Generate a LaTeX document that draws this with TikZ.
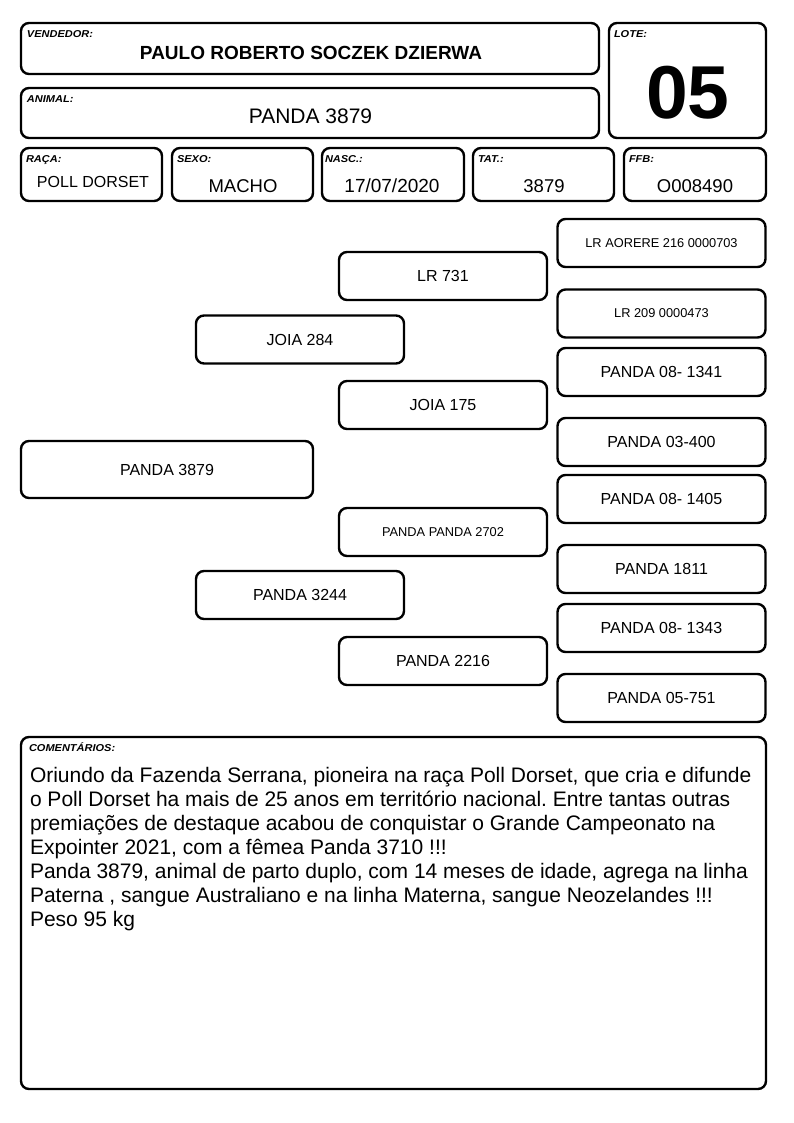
\documentclass[tikz,border=0pt]{standalone}
\usepackage{fontspec}
\setmainfont{Liberation Sans}
\newfontfamily\tagfont[FakeStretch=1.1]{Liberation Sans}
\usetikzlibrary{positioning}
\frenchspacing

\tikzset{
    box/.style={draw, line width=2.4pt, rounded corners=8pt, inner sep=0pt},
    tag/.style={anchor=north west, inner sep=0pt, font=\tagfont\bfseries\itshape\fontsize{10}{11}\selectfont},
    val/.style={font=\fontsize{18.5}{20}\selectfont},
    ped/.style={box, minimum width=208pt, minimum height=48pt, font=\fontsize{16}{17}\selectfont},
    pedsmall/.style={ped, font=\fontsize{12.8}{14}\selectfont}
}

\begin{document}
\begin{tikzpicture}[x=1pt, y=-1pt]
    \useasboundingbox (0,0) rectangle (794,1123);

    % cabecalho
    \node[box, minimum width=578pt, minimum height=51pt] (vendedor) at (310,48.5) {};
    \node[tag] at ([shift={(7pt,-9pt)}]vendedor.north west) {VENDEDOR:};
    \node[font=\bfseries\fontsize{19}{21}\selectfont] at (311,53) {PAULO ROBERTO SOCZEK DZIERWA};

    \node[box, minimum width=578pt, minimum height=50pt] (animal) at (310,113) {};
    \node[tag] at ([shift={(7pt,-9pt)}]animal.north west) {ANIMAL:};
    \node[font=\fontsize{21}{23}\selectfont] at (310.5,116) {PANDA 3879};

    \node[box, minimum width=157pt, minimum height=115pt] (lote) at (687.5,80.5) {};
    \node[tag] at ([shift={(6pt,-9pt)}]lote.north west) {LOTE:};
    \node[font=\bfseries\fontsize{75}{77}\selectfont] at (688,93) {05};

    % linha de dados
    \node[box, minimum width=141pt, minimum height=53pt] (raca) at (91.5,174.5) {};
    \node[tag] at ([shift={(6pt,-9pt)}]raca.north west) {RAÇA:};
    \node[font=\fontsize{16}{18}\selectfont] at (93,182) {POLL DORSET};

    \node[box, minimum width=141pt, minimum height=53pt] (sexo) at (242.5,174.5) {};
    \node[tag] at ([shift={(6pt,-9pt)}]sexo.north west) {SEXO:};
    \node[val] at (243,186) {MACHO};

    \node[box, minimum width=142pt, minimum height=53pt] (nasc) at (393,174.5) {};
    \node[tag] at ([shift={(4pt,-9pt)}]nasc.north west) {NASC.:};
    \node[val, font=\fontsize{19}{20}\selectfont] at (392,186) {17/07/2020};

    \node[box, minimum width=141pt, minimum height=53pt] (tat) at (543.5,174.5) {};
    \node[tag] at ([shift={(6pt,-9pt)}]tat.north west) {TAT.:};
    \node[val] at (544,186) {3879};

    \node[box, minimum width=142pt, minimum height=53pt] (ffb) at (695,174.5) {};
    \node[tag] at ([shift={(6pt,-9pt)}]ffb.north west) {FFB:};
    \node[val] at (695,186) {O008490};

    % genealogia
    \node[ped, minimum width=292pt, minimum height=57pt] (animalped) at (167,469.5) {PANDA 3879};

    \node[ped] (pai) at (300,339.5) {JOIA 284};
    \node[ped] (mae) at (300,595) {PANDA 3244};

    \node[ped] (avopp) at (443,276) {LR 731};
    \node[ped] (avopm) at (443,405) {JOIA 175};
    \node[pedsmall] (avomp) at (443,532) {PANDA PANDA 2702};
    \node[ped] (avomm) at (443,661) {PANDA 2216};

    \node[pedsmall] (b1) at (661.5,243) {LR AORERE 216 0000703};
    \node[pedsmall] (b2) at (661.5,313.5) {LR 209 0000473};
    \node[ped] (b3) at (661.5,372) {PANDA 08- 1341};
    \node[ped] (b4) at (661.5,442) {PANDA 03-400};
    \node[ped] (b5) at (661.5,499) {PANDA 08- 1405};
    \node[ped] (b6) at (661.5,569) {PANDA 1811};
    \node[ped] (b7) at (661.5,628) {PANDA 08- 1343};
    \node[ped] (b8) at (661.5,698) {PANDA 05-751};

    % comentarios
    \node[box, minimum width=745pt, minimum height=352pt] (coment) at (393.5,913) {};
    \node[tag] at ([shift={(9pt,-7pt)}]coment.north west) {COMENTÁRIOS:};
    \node[anchor=north west, inner sep=0pt, align=left, font=\fontsize{21}{24}\selectfont]
        at ([shift={(10pt,-31pt)}]coment.north west)
        {Oriundo da Fazenda Serrana, pioneira na raça Poll Dorset, que cria e difunde\\
         o Poll Dorset ha mais de 25 anos em território nacional. Entre tantas outras\\
         premiações de destaque acabou de conquistar o Grande Campeonato na\\
         Expointer 2021, com a fêmea Panda 3710 !!!\\
         Panda 3879, animal de parto duplo, com 14 meses de idade, agrega na linha\\
         Paterna , sangue Australiano e na linha Materna, sangue Neozelandes !!!\\
         Peso 95 kg};

\end{tikzpicture}
\end{document}
